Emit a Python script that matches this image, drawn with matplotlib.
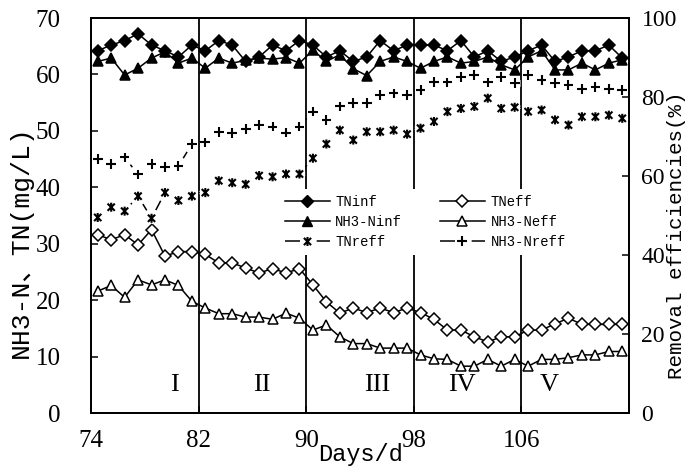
import numpy as np
import matplotlib
matplotlib.use("Agg")
import matplotlib.pyplot as plt
from matplotlib.path import Path
from matplotlib.lines import Line2D
import matplotlib.patheffects as pe

# ---------------- data ----------------
days = np.arange(74, 114)
tn_inf = [64.2, 65.2, 66.0, 67.2, 65.2, 64.2, 63.1, 65.2, 64.2, 66.0,
          65.2, 62.3, 63.1, 65.2, 64.2, 66.0, 65.2, 63.1, 64.2, 62.3,
          63.1, 66.0, 64.2, 65.2, 65.2, 65.2, 64.2, 66.0, 63.1, 64.2,
          62.3, 63.1, 64.2, 65.2, 62.3, 63.1, 64.2, 64.2, 65.2, 62.9]
nh3_inf = [62.3, 62.9, 59.9, 61.1, 62.9, 64.0, 62.0, 62.9, 61.1, 62.9,
           62.0, 62.5, 62.9, 62.7, 63.0, 62.0, 64.3, 62.3, 63.5, 61.0,
           59.8, 62.3, 63.1, 62.3, 61.1, 62.3, 63.1, 62.0, 62.3, 63.1,
           61.7, 60.8, 63.1, 64.2, 60.8, 60.8, 62.0, 60.8, 62.0, 62.6]
tn_eff = [31.6, 30.7, 31.6, 29.8, 32.5, 27.8, 28.6, 28.6, 28.1, 26.6,
          26.6, 25.7, 24.8, 25.6, 24.8, 25.6, 22.7, 19.7, 17.7, 18.6,
          17.8, 18.6, 17.8, 18.6, 17.8, 16.6, 14.7, 14.7, 13.5, 12.6,
          13.5, 13.5, 14.7, 14.7, 15.8, 16.8, 15.7, 15.7, 15.7, 15.7]
nh3_eff = [21.6, 22.6, 20.5, 23.6, 22.7, 23.6, 22.6, 19.8, 18.6, 17.6,
           17.6, 17.0, 17.0, 16.6, 17.7, 16.8, 14.7, 15.6, 13.5, 12.3,
           12.3, 11.5, 11.5, 11.5, 10.3, 9.6, 9.5, 8.3, 8.3, 9.5,
           8.3, 9.5, 8.3, 9.5, 9.5, 9.8, 10.3, 10.3, 10.9, 10.9]
tn_reff = [49.5, 52.1, 51.1, 54.9, 49.3, 55.8, 53.8, 54.9, 55.8, 58.8,
           58.3, 57.9, 60.1, 59.8, 60.5, 60.5, 64.5, 68.1, 71.6, 69.1,
           71.2, 71.2, 71.6, 70.6, 72.1, 73.8, 76.3, 77.1, 77.6, 79.7,
           77.1, 77.4, 76.3, 76.7, 74.2, 72.9, 75.0, 75.0, 75.4, 74.6]
nh3_reff = [64.3, 63.0, 64.7, 60.4, 63.0, 62.2, 62.5, 68.1, 68.5, 71.2,
            70.8, 71.9, 72.9, 72.5, 71.0, 72.5, 76.3, 74.2, 77.6, 78.4,
            78.4, 80.5, 80.9, 80.5, 81.8, 83.8, 83.7, 85.1, 85.6, 83.7,
            85.1, 83.5, 85.6, 84.3, 83.5, 83.0, 82.0, 82.5, 82.0, 81.8]
phase_bounds = [82, 90, 98, 106]
phase_names = ["I", "II", "III", "IV", "V"]
xtick_days = [74, 82, 90, 98, 106]

# ---------------- style ----------------
plt.rcParams['lines.scale_dashes'] = False
MONO = ['Liberation Mono', 'Noto Sans CJK SC']
SERIF = ['Liberation Serif', 'DejaVu Serif']
LW = 1.1
star = Path([(0, -1), (0, 1), (-0.8, -0.8), (0.8, 0.8), (-0.8, 0.8), (0.8, -0.8)],
            [Path.MOVETO, Path.LINETO] * 3)

fig = plt.figure(figsize=(6.91, 4.69), dpi=100)
W, H = 691, 469
ax = fig.add_axes([91 / W, 1 - 413 / H, 538 / W, 395 / H])
ax2 = ax.twinx()

ax.set_xlim(74, 114)
ax.set_ylim(0, 70)
ax2.set_ylim(0, 100)

xs = days + 0.5

ax.vlines(phase_bounds, 0, 70, color='k', lw=1.3, zorder=1)

kw = dict(color='k', lw=LW, mew=LW, zorder=3)
ax.plot(xs, tn_inf, marker='D', ms=5.8, mfc='k', mec='k', **kw)
ax.plot(xs, nh3_inf, marker='^', ms=7.5, mfc='k', mec='k', **kw)
ax.plot(xs, tn_eff, marker='D', ms=5.8, mfc='white', mec='k', **kw)
ax.plot(xs, nh3_eff, marker='^', ms=7.5, mfc='white', mec='k', **kw)


def gapped(axis, x, y, gap_px):
    pts = axis.transData.transform(np.column_stack([x, y]))
    inv = axis.transData.inverted()
    for p0, p1 in zip(pts[:-1], pts[1:]):
        d = p1 - p0
        L = np.hypot(*d)
        if L > 2 * gap_px:
            u = d / L
            a = inv.transform(p0 + u * gap_px)
            b = inv.transform(p1 - u * gap_px)
            axis.plot([a[0], b[0]], [a[1], b[1]], color='k', lw=LW, zorder=2)


gapped(ax2, xs, tn_reff, 10)
gapped(ax2, xs, nh3_reff, 10)
halo = [pe.Stroke(linewidth=5, foreground='white'), pe.Normal()]
ax2.plot(xs, tn_reff, ls='none', marker=star, ms=6.5, mew=1.5, color='k',
         zorder=3, path_effects=halo)
ax2.plot(xs, nh3_reff, ls='none', marker='+', ms=7, mew=1.5, color='k',
         zorder=3, path_effects=halo)

# phase labels
for name, d in zip(phase_names, [80.2, 86.7, 95.3, 101.6, 108.1]):
    ax.text(d, 5, name, ha='center', va='center', fontsize=19,
            family=SERIF, zorder=4)

# axes formatting
ax.set_xticks(xtick_days)
ax.set_xticklabels([str(d) for d in xtick_days])
ax.set_yticks(range(0, 71, 10))
ax2.set_yticks(range(0, 101, 20))
ax.tick_params(axis='both', direction='in', length=5, width=1.1,
               labelsize=18, right=False, top=False)
ax.tick_params(axis='y', pad=22)
ax.tick_params(axis='x', pad=12)
ax2.tick_params(axis='y', direction='in', length=5, width=1.1,
                labelsize=17, pad=9)
for lab in ax.get_xticklabels() + ax.get_yticklabels() + ax2.get_yticklabels():
    lab.set_family(SERIF)
for a in (ax, ax2):
    for s in a.spines.values():
        s.set_linewidth(1.3)

ax.set_xlabel('Days/d', family=MONO, fontsize=17)
ax.xaxis.set_label_coords(0.5, -0.075)
ax.set_ylabel('NH3-N、TN(mg/L)', family=MONO, fontsize=19)
ax.yaxis.set_label_coords(-0.108, 0.435)
ax2.set_ylabel('Removal efficiencies(%)', family=MONO, fontsize=15)
ax2.yaxis.set_label_coords(1.070, 0.45)

# legend
h_tninf = Line2D([], [], color='k', lw=LW, marker='D', ms=5.8, mfc='k', mec='k')
h_nh3inf = Line2D([], [], color='k', lw=LW, marker='^', ms=7.5, mfc='k', mec='k')
h_tneff = Line2D([], [], color='k', lw=LW, marker='D', ms=5.8, mfc='white', mec='k', mew=LW)
h_nh3eff = Line2D([], [], color='k', lw=LW, marker='^', ms=7.5, mfc='white', mec='k', mew=LW)
dash = [10.8, 12.0, 11.0, 50]
h_tnreff = (Line2D([], [], color='k', lw=LW, dashes=dash),
            Line2D([], [], ls='none', marker=star, ms=6.5, mew=1.5, color='k'))
h_nh3reff = (Line2D([], [], color='k', lw=LW, dashes=dash),
             Line2D([], [], ls='none', marker='+', ms=7, mew=1.5, color='k'))
leg = ax2.legend([h_tninf, h_nh3inf, h_tnreff, h_tneff, h_nh3eff, h_nh3reff],
                 ['TNinf', 'NH3-Ninf', 'TNreff', 'TNeff', 'NH3-Neff', 'NH3-Nreff'],
                 ncol=2, loc='upper left',
                 bbox_to_anchor=(279 / W, 1 - 189 / H), bbox_transform=fig.transFigure,
                 borderaxespad=0, frameon=True, fancybox=False, framealpha=1,
                 edgecolor='none', facecolor='white',
                 prop={'family': MONO, 'size': 10},
                 handlelength=3.25, handletextpad=0.4, columnspacing=2.7,
                 labelspacing=0.45, borderpad=0.4)
leg.set_zorder(10)

fig.savefig('out.png', dpi=100)
